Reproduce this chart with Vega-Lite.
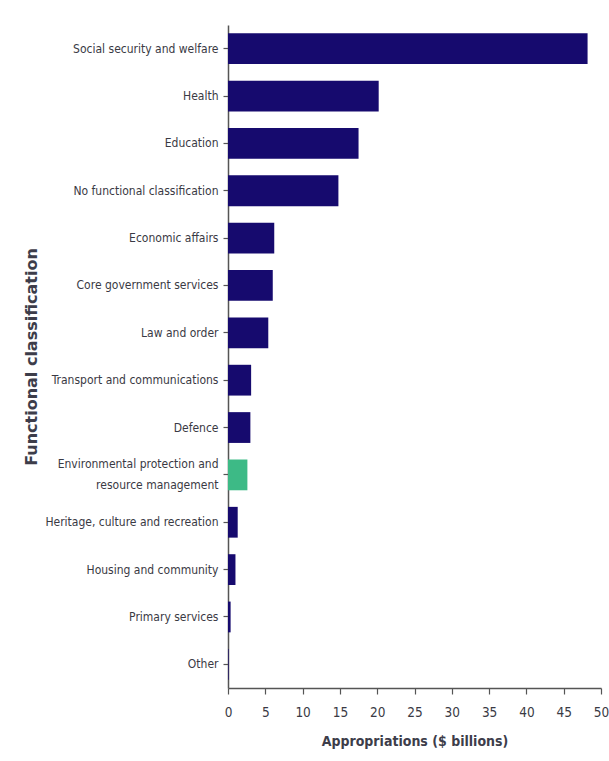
{
  "$schema": "https://vega.github.io/schema/vega-lite/v6.json",
  "width": 373,
  "height": 663,
  "autosize": "none",
  "padding": {"left": 228, "top": 25, "right": 8, "bottom": 73},
  "background": "white",
  "data": {
    "values": [
      {"category": "Social security and welfare", "value": 48.2, "group": "other"},
      {"category": "Health", "value": 20.2, "group": "other"},
      {"category": "Education", "value": 17.5, "group": "other"},
      {"category": "No functional classification", "value": 14.8, "group": "other"},
      {"category": "Economic affairs", "value": 6.2, "group": "other"},
      {"category": "Core government services", "value": 6.0, "group": "other"},
      {"category": "Law and order", "value": 5.4, "group": "other"},
      {"category": "Transport and communications", "value": 3.1, "group": "other"},
      {"category": "Defence", "value": 3.0, "group": "other"},
      {"category": "Environmental protection and resource management", "value": 2.6, "group": "environment"},
      {"category": "Heritage, culture and recreation", "value": 1.3, "group": "other"},
      {"category": "Housing and community", "value": 1.0, "group": "other"},
      {"category": "Primary services", "value": 0.35, "group": "other"},
      {"category": "Other", "value": 0.08, "group": "other"}
    ]
  },
  "mark": {"type": "bar"},
  "encoding": {
    "y": {
      "field": "category",
      "type": "nominal",
      "sort": null,
      "scale": {"paddingInner": 0.35, "paddingOuter": 0.175},
      "axis": {
        "title": "Functional classification",
        "titleFont": "DejaVu Sans",
        "titleFontWeight": "bold",
        "titleFontSize": 16,
        "titleColor": "#3d3d4a",
        "titlePadding": 5,
        "labelFont": "DejaVu Sans Condensed",
        "labelFontSize": 12,
        "labelColor": "#3a3a44",
        "labelPadding": 5,
        "labelLimit": 250,
        "labelExpr": "datum.label == 'Environmental protection and resource management' ? ['Environmental protection and', 'resource management'] : datum.label",
        "labelLineHeight": 21,
        "labelOffset": {"condition": {"test": "datum.value == 'Environmental protection and resource management'", "value": -11}, "value": 0},
        "tickSize": 5,
        "tickColor": "#555555",
        "domainColor": "#555555",
        "domainWidth": 1.5,
        "tickWidth": 1.2
      }
    },
    "x": {
      "field": "value",
      "type": "quantitative",
      "scale": {"domain": [0, 50], "nice": false},
      "axis": {
        "title": "Appropriations ($ billions)",
        "titleFont": "DejaVu Sans Condensed",
        "titleFontWeight": "bold",
        "titleFontSize": 14,
        "titleColor": "#3d3d4a",
        "titlePadding": 16,
        "values": [0, 5, 10, 15, 20, 25, 30, 35, 40, 45, 50],
        "grid": false,
        "labelFont": "DejaVu Sans Condensed",
        "labelFontSize": 13.5,
        "labelColor": "#3a3a44",
        "labelPadding": 11,
        "labelFlush": false,
        "tickSize": 6,
        "tickColor": "#555555",
        "domainColor": "#555555",
        "domainWidth": 1.5,
        "tickWidth": 1.2
      }
    },
    "color": {
      "field": "group",
      "type": "nominal",
      "scale": {"domain": ["other", "environment"], "range": ["#160a6e", "#3dba86"]},
      "legend": null
    }
  },
  "config": {"view": {"stroke": null}}
}
